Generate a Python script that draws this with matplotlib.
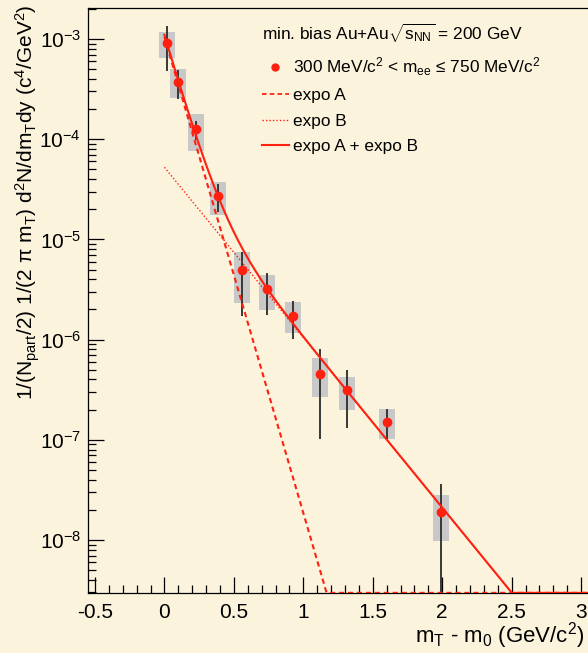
import numpy as np
import matplotlib
matplotlib.use("Agg")
import matplotlib.pyplot as plt
from matplotlib.ticker import MultipleLocator, LogLocator, FuncFormatter, NullFormatter, FormatStrFormatter
from matplotlib.lines import Line2D

plt.rcParams.update({
    "font.family": ["Liberation Sans", "DejaVu Sans"],
    "mathtext.fontset": "custom",
    "mathtext.rm": "Liberation Sans",
    "mathtext.it": "Liberation Sans:italic",
    "mathtext.bf": "Liberation Sans:bold",
    "mathtext.default": "regular",
    "axes.unicode_minus": False,
})

# ---- data ----
mt_m0 = [0.018, 0.097, 0.227, 0.387, 0.560, 0.742, 0.929, 1.121, 1.313, 1.603, 1.994]
yield_val = [9.06e-4, 3.70e-4, 1.27e-4, 2.73e-5, 4.92e-6, 3.18e-6, 1.73e-6, 4.54e-7, 3.12e-7, 1.51e-7, 1.89e-8]
stat_hi = [1.35e-3, 4.91e-4, 1.52e-4, 3.57e-5, 7.48e-6, 4.61e-6, 2.43e-6, 8.05e-7, 4.98e-7, 2.03e-7, 3.62e-8]
stat_lo = [4.80e-4, 2.52e-4, 9.82e-5, 1.88e-5, 1.72e-6, 1.76e-6, 1.01e-6, 1.02e-7, 1.31e-7, 1.02e-7, 0.0]
sys_hi = [1.17e-3, 5.02e-4, 1.78e-4, 3.74e-5, 7.48e-6, 4.41e-6, 2.37e-6, 6.55e-7, 4.24e-7, 2.03e-7, 2.81e-8]
sys_lo = [6.46e-4, 2.58e-4, 7.62e-5, 1.75e-5, 2.32e-6, 1.97e-6, 1.16e-6, 2.67e-7, 1.98e-7, 1.02e-7, 9.77e-9]
sys_box_width = 0.115

# fit parameters: f(x) = norm * exp(-slope * x)
expoA_norm, expoA_slope = 1.05e-3, 10.94
expoB_norm, expoB_slope = 5.25e-5, 3.91

x_ticks_major = 0.5
x_ticks_minor = 0.1
ylim = (2.96e-9, 2.04e-3)
xlim = (-0.55, 3.1)

red = "#ff2010"
bg = "#fcf3dd"

fig = plt.figure(figsize=(5.88, 6.53), dpi=100)
fig.patch.set_facecolor(bg)
ax = fig.add_axes([88 / 588, 60 / 653, 507 / 588, 585 / 653])
ax.set_facecolor(bg)
ax.set_yscale("log")
ax.set_xlim(*xlim)
ax.set_ylim(*ylim)

x = np.array(mt_m0)
y = np.array(yield_val)
shi = np.array(sys_hi)
slo = np.array(sys_lo)

ax.bar(x, shi - slo, bottom=slo, width=sys_box_width, color="#c8c8c8", edgecolor="none", zorder=1)
ax.vlines(x, np.maximum(np.array(stat_lo), ylim[0] * 0.5), np.array(stat_hi), color="#383838", lw=1.4, zorder=2)

xx = np.linspace(0.0, xlim[1] + 0.1, 600)
fA = expoA_norm * np.exp(-expoA_slope * xx)
fB = expoB_norm * np.exp(-expoB_slope * xx)
fS = fA + fB
clip = ylim[0] * 1.003
ax.plot(xx, np.maximum(fA, clip), color=red, lw=1.5, ls=(0, (2.5, 1.8)), zorder=3)
ax.plot(xx, np.maximum(fB, clip), color=red, lw=1.0, ls=(0, (1, 1.5)), zorder=3)
ax.plot(xx, np.maximum(fS, clip), color=red, lw=1.5, zorder=3)
ax.plot(x, y, "o", color=red, ms=6, mec=red, zorder=4)

# ticks
ax.xaxis.set_major_locator(MultipleLocator(x_ticks_major))
ax.xaxis.set_minor_locator(MultipleLocator(x_ticks_minor))
ax.xaxis.set_major_formatter(FormatStrFormatter("%g"))
ax.yaxis.set_major_locator(LogLocator(base=10, numticks=20))
ax.yaxis.set_minor_locator(LogLocator(base=10, subs=np.arange(2, 10), numticks=100))
ax.yaxis.set_minor_formatter(NullFormatter())
ax.yaxis.set_major_formatter(FuncFormatter(lambda v, p: r"$10^{%d}$" % int(round(np.log10(v)))))
ax.tick_params(which="major", direction="in", length=11.5, width=0.9, top=False, right=False,
               labelsize=15, pad=7)
ax.tick_params(axis="y", which="major", pad=5)
ax.tick_params(which="minor", direction="in", length=5.8, width=0.9, top=False, right=False)
for s in ax.spines.values():
    s.set_linewidth(0.9)

fig.text(28 / 588, 1 - 5 / 653,
         r"1/(N$_{part}$/2) 1/(2 $\pi$ m$_{T}$) d$^{2}$N/dm$_{T}$dy (c$^{4}$/GeV$^{2}$)",
         rotation=90, ha="center", va="top", fontsize=15)
fig.text(585 / 588, 1 - 636 / 653, r"m$_{T}$ - m$_{0}$ (GeV/c$^{2}$)", ha="right", va="center", fontsize=16)

handles = [
    Line2D([], [], marker="o", ls="none", color=red, ms=5),
    Line2D([], [], color=red, lw=1.3, ls=(0, (2.5, 1.8))),
    Line2D([], [], color=red, lw=1.0, ls=(0, (1, 1.5))),
    Line2D([], [], color=red, lw=1.5),
]
labels = [
    r"300 MeV/c$^{2}$ < m$_{ee}$ ≤ 750 MeV/c$^{2}$",
    "expo A",
    "expo B",
    "expo A + expo B",
]
leg = ax.legend(handles, labels, title=r"min. bias Au+Au$\sqrt{s_{NN}}$ = 200 GeV",
                loc="upper left", bbox_to_anchor=(262 / 588, 1 - 22 / 653), bbox_transform=fig.transFigure,
                frameon=False, fontsize=12.4, title_fontsize=12.4, alignment="left",
                handlelength=1.55, handletextpad=0.25, labelspacing=0.6, borderpad=0, borderaxespad=0)

fig.savefig("out.png", dpi=100, facecolor=bg)
